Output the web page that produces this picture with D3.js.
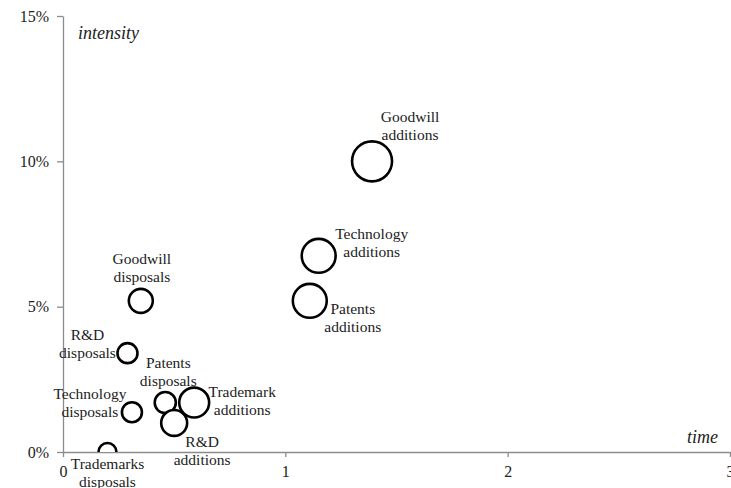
<!DOCTYPE html>
<html>
<head>
<meta charset="utf-8">
<script src="https://cdn.jsdelivr.net/npm/d3@7"></script>
<style>
  body { margin: 0; background: white; }
  text { font-family: "Liberation Serif", "Times New Roman", serif; }
</style>
</head>
<body>
<div id="chart"></div>
<script>
// bubble data, drawn in this order (later ones sit on top)
var names = ["Goodwill disposals", "R&D disposals", "Technology disposals", "Patents disposals",
             "Trademarks disposals", "Goodwill additions", "Technology additions", "Patents additions",
             "Trademark additions", "R&D additions"];
var timeVals = [0.35, 0.29, 0.31, 0.46, 0.2, 1.39, 1.15, 1.11, 0.59, 0.50];
var intensityVals = [5.2, 3.4, 1.37, 1.7, 0.0, 10.0, 6.75, 5.2, 1.7, 1.0];
var sizeVals = [36, 25, 25, 28, 20, 100, 72, 72, 56, 42];
var xTicks = [0, 1, 2, 3];
var yTicks = [0, 5, 10, 15];

// label placement (pixel offsets from bubble centre, two lines)
var labelPos = [
  [1, -37, "middle"], [-40, -13, "middle"], [-42, -13, "middle"], [3, -35, "middle"],
  [0, 17, "middle"], [38, -39, "middle"], [53, -17, "middle"], [43, 13, "middle"],
  [48, -6, "middle"], [28, 24, "middle"]
];

var w = 731, h = 488;
var margin = {left: 63, right: 1, top: 16, bottom: 36};

var svg = d3.select("#chart")
  .append("svg")
  .attr("width", w)
  .attr("height", h);

var x = d3.scaleLinear().domain([0, 3]).range([margin.left, w - margin.right]);
var y = d3.scaleLinear().domain([0, 15]).range([h - margin.bottom, margin.top]);
var r = d3.scaleSqrt().domain([0, 100]).range([0, 20]);

svg.append("clipPath").attr("id", "plot")
  .append("rect")
  .attr("x", margin.left).attr("y", 0)
  .attr("width", w - margin.left).attr("height", y(0));

var xAxis = svg.append("g")
  .attr("transform", "translate(0," + y(0) + ")")
  .call(d3.axisBottom(x).tickValues(xTicks).tickSize(5).tickSizeOuter(0).tickFormat(d3.format("d")));

var yAxis = svg.append("g")
  .attr("transform", "translate(" + x(0) + ",0)")
  .call(d3.axisLeft(y).tickValues(yTicks).tickSize(6).tickSizeOuter(0).tickFormat(function(d) { return d + "%"; }));

[xAxis, yAxis].forEach(function(a) {
  a.selectAll("path, line").attr("stroke", "#8c8c8c").attr("stroke-width", 1.3);
  a.selectAll("text").attr("fill", "#222").style("font-size", "16px");
});
xAxis.selectAll("text").attr("dy", "1.05em");
yAxis.selectAll("text").attr("x", -14);

svg.append("text").attr("x", 78).attr("y", 39)
  .style("font-style", "italic").style("font-size", "18px").attr("fill", "#222")
  .text("intensity");
svg.append("text").attr("x", 718).attr("y", 443)
  .attr("text-anchor", "end")
  .style("font-style", "italic").style("font-size", "18px").attr("fill", "#222")
  .text("time");

var idx = d3.range(names.length);

svg.append("g").attr("clip-path", "url(#plot)")
  .selectAll("circle")
  .data(idx)
  .enter()
  .append("circle")
  .attr("cx", function(i) { return x(timeVals[i]); })
  .attr("cy", function(i) { return y(intensityVals[i]); })
  .attr("r", function(i) { return r(sizeVals[i]); })
  .attr("fill", "white")
  .attr("stroke", "black")
  .attr("stroke-width", 2.6);

var labels = svg.append("g").selectAll("text")
  .data(idx)
  .enter()
  .append("text")
  .attr("text-anchor", function(i) { return labelPos[i][2]; })
  .attr("fill", "#222")
  .style("font-size", "15.5px")
  .attr("transform", function(i) {
    return "translate(" + (x(timeVals[i]) + labelPos[i][0]) + "," + (y(intensityVals[i]) + labelPos[i][1]) + ")";
  });

labels.each(function(i) {
  var parts = names[i].split(" ");
  var t = d3.select(this);
  t.append("tspan").attr("x", 0).attr("y", 0).text(parts[0]);
  t.append("tspan").attr("x", 0).attr("y", 18).text(parts[1]);
});
</script>
</body>
</html>
